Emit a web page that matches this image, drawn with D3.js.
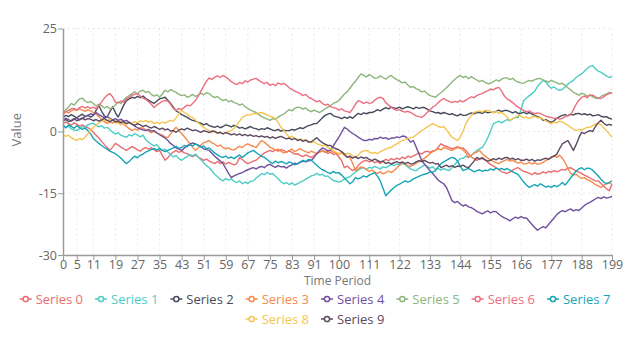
<!DOCTYPE html>
<html><head><meta charset="utf-8">
<script src="https://cdn.jsdelivr.net/npm/d3@7"></script>
<style>
body{margin:0;background:#fff;}
svg{display:block;font-family:"Open Sans","Noto Sans",sans-serif;}
</style></head>
<body><svg id="c" width="630" height="337"></svg>
<script>
const seriesNames = ["Series 0","Series 1","Series 2","Series 3","Series 4","Series 5","Series 6","Series 7","Series 8","Series 9"];
const colors = ["#e96c6e","#4ecdc4","#474c5a","#f58a4c","#71509e","#8cb67b","#eb6f7f","#16a5b6","#f5c550","#5c4a60"];
const xTickLabels = [0,5,11,19,27,35,43,51,59,67,75,83,91,100,111,122,133,144,155,166,177,188,199];
const yTickLabels = [25,0,-15,-30];

const s0 = [1.8,2.3,1.9,1.5,2.1,1.7,1.3,1.6,1.2,0.9,
0.5,-0.2,-0.9,-1.6,-2.4,-3.2,-3.9,-4.6,-3.8,-2.9,
-3.3,-3.8,-4.2,-4.6,-4.1,-3.7,-4.0,-4.5,-4.8,-4.2,
-3.9,-4.3,-4.0,-4.4,-4.9,-4.6,-5.8,-7.0,-6.4,-5.5,
-5.0,-4.6,-5.1,-4.8,-5.2,-5.4,-5.8,-6.1,-5.7,-6.2,
-6.6,-7.0,-6.7,-7.2,-7.5,-7.8,-7.3,-7.8,-7.4,-7.9,
-7.5,-7.8,-8.1,-7.8,-6.3,-6.8,-7.4,-7.8,-7.5,-7.2,
-7.0,-6.4,-5.8,-5.2,-4.9,-4.6,-4.9,-4.5,-4.8,-4.4,
-4.6,-5.0,-4.7,-5.1,-5.5,-5.4,-5.8,-6.1,-5.7,-6.0,
-6.3,-5.9,-5.4,-5.0,-4.6,-4.9,-5.3,-5.0,-5.6,-5.4,
-6.2,-7.1,-8.8,-8.4,-9.0,-9.5,-9.1,-8.3,-7.6,-7.2,
-7.0,-7.4,-7.1,-7.6,-7.3,-7.8,-7.2,-6.8,-7.1,-6.6,
-6.9,-6.5,-6.8,-6.2,-6.6,-6.0,-6.3,-5.9,-5.6,-5.2,
-5.5,-5.0,-4.8,-5.1,-4.7,-4.6,-3.8,-3.0,-3.4,-3.6,
-3.9,-4.2,-4.0,-3.7,-4.1,-4.0,-4.6,-5.4,-6.2,-6.6,
-7.0,-6.6,-6.3,-6.9,-7.5,-8.0,-8.4,-8.8,-9.3,-9.8,
-10.0,-10.2,-9.8,-9.4,-9.0,-8.8,-9.3,-9.7,-9.9,-10.2,
-10.5,-10.0,-10.4,-10.2,-9.8,-10.1,-9.7,-9.9,-9.5,-9.8,
-9.5,-9.2,-9.4,-8.9,-8.8,-9.2,-9.6,-9.9,-10.2,-10.6,
-10.9,-11.3,-11.7,-12.0,-12.0,-12.6,-13.3,-13.9,-14.4,-12.8];

const s1 = [1.5,0.9,1.3,0.6,0.4,0.2,0.7,1.2,1.0,1.6,
1.9,2.0,1.5,1.1,1.4,0.8,1.0,0.4,-0.2,-0.6,
-0.3,-0.9,-1.2,-1.4,-0.8,-1.1,-0.5,-0.9,-1.3,-0.9,
-2.0,-2.6,-3.1,-3.5,-3.2,-4.0,-4.6,-4.3,-5.0,-5.6,
-6.2,-5.8,-6.6,-7.0,-6.5,-6.1,-5.6,-5.9,-5.5,-6.2,
-6.9,-7.6,-8.3,-8.8,-9.6,-10.4,-11.0,-11.6,-12.0,-11.4,
-11.8,-11.5,-12.1,-12.4,-12.0,-12.7,-12.3,-12.6,-12.1,-12.0,
-11.3,-10.8,-10.2,-10.5,-9.9,-10.4,-10.2,-10.9,-11.5,-12.2,
-12.7,-12.4,-12.9,-12.5,-13.0,-12.7,-12.3,-12.0,-11.6,-11.2,
-10.8,-10.6,-10.2,-10.6,-10.4,-10.9,-10.8,-11.4,-11.9,-12.1,
-12.3,-12.0,-11.6,-11.2,-11.0,-10.4,-9.9,-9.4,-9.0,-8.8,
-9.2,-8.7,-8.9,-8.5,-8.8,-9.1,-8.6,-8.8,-8.4,-8.0,
-8.3,-7.9,-8.2,-7.8,-8.0,-8.6,-9.1,-9.4,-9.5,-9.0,
-8.6,-8.2,-8.5,-8.9,-8.6,-9.2,-9.0,-9.4,-9.0,-9.3,
-9.5,-8.8,-8.0,-7.3,-6.6,-6.5,-6.0,-6.3,-5.8,-5.2,
-4.6,-4.2,-3.9,-2.8,-1.5,0.1,1.9,2.2,2.5,2.1,
2.5,2.9,2.6,3.1,3.4,3.4,5.2,7.5,8.1,8.7,
9.2,9.8,10.9,11.7,12.4,12.0,11.1,10.5,10.8,10.3,
10.0,10.2,10.8,11.5,12.0,12.4,13.1,13.6,14.0,14.6,
15.3,15.8,16.0,15.2,14.6,14.4,13.9,13.5,13.1,13.4];

const s2 = [3.4,3.9,3.6,4.1,3.7,3.3,3.8,4.2,3.6,3.9,
3.5,3.9,5.1,6.3,4.9,3.8,3.5,4.8,6.0,4.6,
3.5,4.9,6.4,7.5,7.9,8.3,8.1,8.5,8.2,8.6,
8.0,7.6,7.2,6.8,7.4,7.9,8.1,8.3,7.6,6.8,
5.9,5.0,4.6,4.1,3.8,3.4,3.0,2.7,2.5,2.2,
2.0,1.6,1.9,1.4,1.2,1.0,1.3,0.9,1.2,1.6,
1.4,1.1,1.5,1.2,0.8,1.0,0.6,0.9,1.2,0.8,
0.7,0.4,0.7,0.5,0.9,0.6,0.3,0.2,0.5,0.1,
0.3,0.2,0.2,0.5,0.3,0.6,0.9,0.7,1.1,1.4,
1.6,1.9,1.9,2.6,3.3,3.9,4.2,4.4,3.8,3.6,
3.4,3.1,3.5,3.2,3.6,3.2,3.8,4.4,4.1,4.5,
4.3,4.6,4.6,4.9,5.3,5.0,5.4,5.8,5.5,5.9,
5.7,5.6,5.9,5.5,5.8,6.0,5.8,5.5,5.9,5.6,
5.8,5.8,5.4,5.0,4.8,4.5,4.6,4.3,4.6,4.4,
4.1,4.3,4.0,3.8,4.2,3.9,3.9,4.2,4.5,4.3,
4.6,4.6,4.4,4.8,4.5,4.7,4.6,4.9,5.2,4.8,
5.1,5.1,4.8,4.5,4.8,4.4,4.4,4.7,4.3,4.6,
4.2,3.9,3.6,3.4,2.7,2.9,2.5,2.2,2.6,3.2,
3.6,3.9,4.1,3.8,4.2,4.0,4.3,4.4,4.1,4.3,
4.0,4.2,3.8,3.9,4.1,3.7,3.5,3.6,3.2,3.0];

const s3 = [4.4,4.8,4.5,5.0,5.3,5.1,5.5,5.2,4.9,5.3,
5.0,4.6,4.2,3.6,2.9,2.4,1.9,2.3,2.0,2.6,
2.2,2.5,1.8,1.2,0.7,0.2,0.6,0.3,0.9,0.8,
0.4,0.1,-0.3,0.0,-0.4,-0.6,-0.9,-1.3,-1.5,-0.6,
0.3,1.0,0.2,-0.5,-1.3,-2.1,-3.0,-3.8,-4.6,-4.0,
-3.3,-2.7,-2.5,-2.2,-2.8,-3.1,-3.6,-3.3,-3.9,-4.2,
-4.0,-4.4,-4.5,-4.0,-3.6,-3.9,-3.3,-3.0,-3.4,-3.6,
-3.9,-3.0,-2.2,-2.6,-3.2,-3.8,-4.1,-4.6,-4.3,-4.8,
-5.2,-5.0,-4.6,-4.3,-4.9,-4.5,-4.2,-4.6,-4.9,-5.2,
-4.8,-5.1,-5.4,-5.0,-4.7,-5.1,-4.8,-4.6,-5.0,-5.3,
-5.5,-5.2,-5.8,-6.1,-6.3,-7.8,-9.5,-9.1,-8.6,-8.8,
-9.3,-9.7,-9.4,-9.9,-10.2,-9.8,-10.3,-10.0,-9.6,-10.0,
-9.5,-8.9,-8.2,-7.5,-7.9,-8.3,-8.5,-8.1,-7.7,-7.4,
-7.0,-6.5,-6.0,-5.4,-4.9,-4.6,-4.2,-4.5,-3.9,-4.1,
-4.4,-4.6,-4.2,-4.0,-3.9,-4.5,-5.2,-6.3,-5.8,-5.3,
-5.0,-4.6,-5.4,-6.0,-6.5,-6.9,-7.3,-7.6,-7.8,-7.4,
-7.1,-6.8,-7.2,-7.0,-7.4,-7.7,-7.4,-7.9,-7.8,-7.5,
-7.9,-7.6,-8.0,-7.8,-7.5,-7.1,-6.6,-6.2,-5.9,-6.3,
-5.8,-6.5,-7.6,-8.9,-10.2,-10.6,-10.4,-11.0,-11.4,-11.2,
-11.7,-12.0,-12.4,-12.9,-13.2,-13.6,-13.1,-12.7,-12.4,-12.9];

const s4 = [2.8,3.2,2.9,2.5,2.9,3.3,2.8,3.1,3.6,3.9,
4.3,4.0,4.6,4.1,3.7,3.3,3.6,3.2,2.8,3.1,
2.7,3.0,2.5,2.7,2.2,1.8,1.3,0.9,0.6,0.4,
0.2,0.5,0.1,0.2,-0.3,-0.8,-1.2,-1.6,-2.2,-2.9,
-3.4,-4.0,-4.3,-4.6,-4.0,-3.5,-3.1,-2.8,-3.0,-3.3,
-3.7,-4.2,-4.4,-4.6,-5.3,-6.0,-6.6,-7.2,-7.8,-9.0,
-10.2,-11.2,-10.8,-10.5,-10.2,-10.0,-9.6,-9.3,-9.0,-8.8,
-9.1,-8.7,-8.5,-8.8,-8.2,-8.0,-8.4,-8.7,-8.3,-8.6,
-8.5,-8.9,-8.4,-8.1,-7.7,-7.9,-7.5,-7.2,-7.4,-7.1,
-7.0,-6.3,-5.4,-4.6,-4.0,-4.3,-4.7,-4.5,-3.5,-2.4,
-1.4,-0.2,1.0,0.6,0.0,-0.5,-0.9,-1.4,-1.8,-2.2,
-2.2,-1.9,-2.1,-1.7,-1.8,-1.4,-1.7,-1.5,-1.9,-1.6,
-1.6,-1.3,-1.5,-1.1,-1.2,-1.8,-2.6,-2.2,-3.8,-5.4,
-7.0,-7.9,-8.7,-9.5,-10.2,-11.0,-11.8,-12.3,-12.7,-13.6,
-15.2,-16.8,-17.3,-17.0,-17.6,-18.1,-17.8,-18.3,-18.5,-18.9,
-19.4,-19.7,-20.0,-19.6,-19.3,-19.8,-19.4,-19.5,-20.1,-20.6,
-21.0,-21.3,-21.7,-21.2,-20.8,-21.1,-20.7,-21.0,-21.0,-21.8,
-22.6,-23.3,-24.0,-23.5,-23.1,-23.4,-22.6,-21.8,-21.0,-20.2,
-19.6,-19.2,-19.5,-19.1,-18.8,-19.3,-19.0,-19.2,-18.6,-18.0,
-17.5,-17.2,-16.8,-16.4,-16.0,-16.3,-15.9,-16.2,-16.0,-15.8];

const s5 = [4.6,5.3,5.9,6.8,6.4,7.2,7.9,8.1,7.4,7.0,
7.3,6.8,6.2,6.6,6.3,5.7,6.1,5.5,5.8,6.4,
7.1,6.8,7.6,8.3,8.7,9.2,9.6,9.1,9.8,10.0,
9.5,9.7,9.0,8.6,8.9,8.3,9.1,10.0,9.6,10.2,
9.8,9.5,9.0,8.7,8.9,8.3,8.6,9.0,8.5,8.8,
9.3,8.9,9.4,9.2,8.6,8.2,8.5,7.9,7.5,7.8,
7.2,7.5,7.0,6.8,6.4,6.7,6.0,5.6,5.2,4.9,
4.6,4.1,3.6,3.3,3.0,2.7,3.1,2.9,3.5,3.9,
4.2,4.8,5.3,5.0,5.6,5.9,5.8,5.4,5.7,5.1,
4.8,5.2,4.9,4.6,5.0,5.5,5.9,6.3,6.8,7.1,
7.5,8.3,9.1,9.6,10.5,11.4,12.2,13.1,14.0,13.6,
13.2,13.8,13.4,12.9,13.0,13.5,13.1,12.7,13.3,13.6,
13.0,12.6,12.2,11.8,12.0,11.3,10.7,10.9,10.4,10.1,
9.6,9.8,9.2,8.7,8.5,8.3,8.9,9.4,10.0,10.6,
11.3,12.0,12.6,13.2,13.6,13.1,13.4,12.8,13.3,12.9,
12.5,12.1,12.4,11.9,11.6,11.7,12.1,12.5,12.2,12.7,
13.0,13.0,12.6,12.9,12.3,12.0,11.8,11.7,12.1,12.4,
12.2,12.6,12.8,12.9,12.5,12.3,12.0,12.4,12.1,11.8,
11.5,11.7,11.2,10.6,10.1,9.5,9.2,8.8,9.3,9.0,
8.6,8.9,8.4,8.1,8.0,8.5,8.8,9.1,9.5,9.3];

const s6 = [4.2,4.8,5.1,5.5,5.6,5.2,5.8,6.1,5.7,6.0,
5.6,5.9,5.5,6.3,7.2,8.1,8.8,9.2,8.4,7.1,
7.0,7.4,7.1,7.9,8.3,8.8,9.0,9.2,8.6,8.1,
7.8,7.2,6.6,5.8,6.4,6.9,7.3,7.5,7.4,6.6,
5.6,5.1,5.6,5.3,5.9,6.4,6.2,6.8,7.5,8.6,
9.8,11.0,12.2,13.0,12.6,13.2,13.5,13.1,13.6,13.2,
12.7,12.1,11.7,11.4,11.9,11.6,12.3,12.0,12.5,12.7,
12.9,12.4,12.0,11.6,11.9,11.2,11.5,11.1,11.8,11.4,
11.7,11.2,10.6,10.2,9.8,9.5,9.2,8.7,9.0,8.3,
8.0,7.6,7.2,7.5,6.8,6.4,6.6,6.0,5.8,5.6,
5.2,5.5,5.0,4.8,4.6,5.5,6.6,7.5,7.2,6.8,
7.1,6.8,7.0,7.6,8.1,8.3,8.0,7.0,6.4,5.9,
5.4,5.1,5.3,4.9,4.7,4.9,4.6,4.2,3.8,3.6,
3.4,3.9,4.6,5.3,5.9,6.3,7.0,7.6,8.0,7.6,
7.3,7.0,7.3,7.1,7.5,7.2,7.6,8.0,8.4,8.2,
8.7,9.0,9.2,9.6,9.9,10.3,10.1,10.5,10.7,9.8,
8.6,7.9,7.5,7.0,6.4,5.9,5.5,5.1,4.8,5.0,
4.6,4.3,4.5,4.4,4.0,3.7,3.5,3.4,3.1,3.3,
3.0,3.2,3.6,3.9,4.0,5.3,6.6,7.6,8.3,8.6,
8.2,8.8,8.8,8.4,8.1,8.0,8.4,8.9,9.2,9.4];

const s7 = [1.5,0.9,1.6,1.2,0.8,1.4,0.9,0.5,0.8,0.2,
-0.6,-1.7,-2.3,-2.9,-3.4,-3.9,-4.3,-4.8,-5.1,-5.4,
-5.9,-6.5,-7.2,-7.8,-7.3,-6.6,-6.0,-6.4,-5.8,-5.5,
-5.0,-4.7,-4.4,-4.2,-4.5,-4.2,-4.6,-4.9,-4.6,-4.3,
-4.0,-3.6,-4.1,-3.9,-3.4,-3.7,-3.2,-3.5,-3.0,-3.4,
-3.8,-3.5,-4.2,-4.0,-4.6,-5.2,-5.7,-6.1,-6.3,-6.0,
-6.5,-6.2,-6.6,-6.1,-5.7,-6.3,-5.8,-5.2,-4.9,-4.6,
-5.1,-5.6,-6.0,-6.3,-6.8,-7.4,-7.8,-7.2,-7.6,-7.3,
-7.5,-7.9,-7.4,-7.7,-8.1,-7.8,-7.4,-7.0,-7.3,-6.8,
-7.0,-7.6,-8.2,-8.8,-9.3,-9.6,-10.0,-10.2,-9.7,-10.1,
-10.0,-10.6,-11.3,-12.0,-12.7,-12.2,-11.2,-11.5,-11.2,-10.8,
-11.1,-10.6,-10.3,-10.0,-10.9,-12.0,-13.8,-15.6,-14.9,-14.2,
-13.6,-13.1,-12.8,-12.4,-12.0,-12.3,-12.0,-11.5,-11.2,-10.9,
-10.6,-10.4,-10.2,-9.8,-9.9,-9.5,-8.6,-7.8,-7.4,-7.0,
-6.6,-6.3,-6.5,-7.2,-8.4,-9.5,-9.2,-9.0,-9.4,-9.8,
-9.5,-9.3,-9.7,-9.4,-9.5,-9.1,-9.4,-8.9,-9.2,-9.0,
-9.3,-9.0,-9.4,-9.8,-10.1,-10.5,-11.4,-12.3,-13.0,-13.6,
-13.2,-12.9,-13.3,-12.7,-13.1,-13.5,-13.3,-13.6,-13.1,-13.4,
-13.0,-12.4,-13.0,-12.2,-11.3,-10.4,-9.6,-9.1,-8.8,-9.3,
-8.9,-9.0,-9.4,-10.1,-10.8,-11.6,-12.3,-12.7,-12.4,-12.0];

const s8 = [-0.8,-1.2,-0.9,-1.5,-1.9,-2.2,-1.7,-2.0,-1.4,-0.6,
0.3,1.0,1.5,2.1,2.5,2.8,2.5,3.0,2.6,2.2,
2.0,1.6,2.1,1.8,2.2,2.0,2.4,2.1,2.6,2.3,
2.7,2.2,2.5,1.9,2.2,1.9,2.3,2.0,2.4,2.7,
2.5,3.3,4.2,5.1,4.6,4.2,3.6,3.4,2.8,2.1,
1.5,1.0,0.6,0.2,-0.2,0.1,-0.5,-0.2,-0.6,-0.3,
0.0,0.2,0.8,1.6,2.5,3.4,3.8,4.1,4.0,4.4,
4.2,4.5,4.6,4.3,4.0,3.7,3.5,3.2,2.2,1.0,
0.3,-0.6,-1.4,-1.2,-1.6,-1.9,-2.0,-2.2,-2.0,-2.4,
-2.7,-2.5,-3.0,-3.2,-3.5,-3.3,-3.9,-4.2,-4.6,-5.0,
-5.4,-5.1,-5.6,-5.3,-5.4,-5.9,-6.3,-5.8,-5.0,-4.7,
-4.6,-5.0,-5.3,-5.1,-5.4,-4.9,-4.6,-4.3,-4.0,-3.9,
-3.4,-3.0,-2.6,-2.2,-2.0,-1.7,-1.5,-1.4,-0.8,-0.3,
0.2,0.6,1.1,1.5,1.9,1.6,1.2,1.0,1.2,0.4,
-0.5,-1.4,-1.8,-2.2,-1.3,0.0,1.9,3.0,3.9,4.6,
4.8,5.0,4.7,5.1,5.1,4.8,4.5,4.9,4.4,4.6,
4.1,3.5,2.7,3.1,3.4,3.9,3.7,3.3,3.5,3.2,
3.5,3.7,3.3,3.4,3.0,2.6,2.2,1.9,2.3,2.1,
2.5,2.3,1.9,1.5,1.0,0.6,0.2,0.5,0.3,0.7,
1.0,1.0,1.4,1.8,2.0,1.6,0.9,0.2,-0.6,-1.4];

const s9 = [2.5,2.9,2.4,2.7,3.1,2.6,2.9,3.3,2.8,3.1,
3.0,2.6,2.9,2.5,2.8,3.2,2.7,2.4,2.8,2.3,
2.5,2.1,2.4,1.9,2.2,1.8,1.5,1.9,1.6,1.2,
1.5,1.1,0.8,1.2,0.9,0.5,0.8,0.4,0.6,0.1,
0.2,-0.2,0.3,0.6,0.4,0.8,0.5,0.2,0.4,0.1,
-0.2,0.2,0.0,-0.3,0.1,0.0,-0.4,-0.2,-0.6,-0.3,
-0.5,-0.8,-0.6,-0.9,-0.6,-1.0,-0.7,-1.1,-0.8,-1.2,
-1.0,-1.3,-1.1,-1.4,-1.2,-1.6,-1.3,-1.7,-1.4,-1.2,
-1.5,-1.8,-1.6,-2.0,-1.7,-2.2,-1.9,-2.4,-2.1,-2.6,
-2.5,-2.0,-1.5,-2.2,-2.7,-3.1,-3.4,-3.4,-3.9,-4.2,
-4.5,-4.9,-5.5,-6.3,-6.0,-6.5,-6.1,-6.6,-6.2,-6.5,
-6.3,-6.8,-7.1,-6.7,-7.0,-7.4,-7.2,-7.8,-7.5,-7.9,
-7.6,-7.3,-7.7,-7.4,-7.8,-7.5,-7.9,-7.8,-7.4,-7.1,
-7.3,-7.0,-7.4,-7.7,-7.5,-7.9,-7.8,-8.8,-8.5,-8.2,
-8.6,-8.3,-8.7,-8.4,-8.5,-8.2,-8.6,-8.8,-8.0,-7.2,
-6.3,-6.7,-6.5,-6.9,-7.2,-7.0,-6.6,-6.9,-6.5,-6.8,
-6.4,-6.3,-6.7,-6.5,-6.9,-6.6,-7.0,-7.0,-6.7,-7.1,
-6.8,-7.2,-6.9,-7.0,-6.7,-6.5,-6.8,-6.3,-6.0,-5.5,
-4.2,-3.0,-2.6,-2.2,-3.4,-4.6,-3.2,-1.5,-0.2,-0.5,
-0.1,0.2,0.0,1.2,2.1,2.7,2.0,1.5,1.7,1.5];

const seriesValues = [s0,s1,s2,s3,s4,s5,s6,s7,s8,s9];

const svg = d3.select("#c");
const mLeft = 63, mRight = 612, mTop = 28.5, mBottom = 255;
const x = d3.scaleLinear().domain([0,199]).range([mLeft,mRight]);
const y = d3.scaleLinear().domain([-30,25]).range([mBottom,mTop]);

// grid
const grid = svg.append("g");
grid.selectAll("line.v").data(xTickLabels.slice(1)).join("line")
  .attr("x1",d=>x(d)).attr("x2",d=>x(d)).attr("y1",mTop).attr("y2",mBottom)
  .attr("stroke","#e8e8e8").attr("stroke-dasharray","2,3").attr("stroke-width",1);
grid.selectAll("line.h").data(yTickLabels.filter(d=>d!==-30)).join("line")
  .attr("x1",mLeft).attr("x2",mRight).attr("y1",d=>y(d)).attr("y2",d=>y(d))
  .attr("stroke","#e8e8e8").attr("stroke-dasharray","2,3").attr("stroke-width",1);

// lines
const line = d3.line().x((d,i)=>x(i)).y(d=>y(d));
svg.append("g").selectAll("path").data(seriesValues).join("path")
  .attr("d",line).attr("fill","none")
  .attr("stroke",(d,i)=>colors[i]).attr("stroke-width",1.4)
  .attr("stroke-linejoin","round");

// axes
const xAxis = d3.axisBottom(x).tickValues(xTickLabels).tickSize(5).tickSizeOuter(0).tickFormat(d=>d);
const gx = svg.append("g").attr("transform",`translate(0,${mBottom})`).call(xAxis);
const yAxis = d3.axisLeft(y).tickValues(yTickLabels).tickSize(5).tickSizeOuter(0).tickFormat(d=>d);
const gy = svg.append("g").attr("transform",`translate(${mLeft},0)`).call(yAxis);
[gx,gy].forEach(g=>{
  g.select(".domain").attr("stroke","#9a9a9a").attr("stroke-width",1.5);
  g.selectAll(".tick line").attr("stroke","#9a9a9a");
  g.selectAll(".tick text").attr("fill","#666").style("font-size","12.5px").style("font-family","'Open Sans','Noto Sans',sans-serif");
});
gx.selectAll(".tick text").attr("dy",null).attr("y",13.5);
gy.selectAll(".tick text").attr("x",-6);

svg.append("text").attr("x",(mLeft+mRight)/2).attr("y",285).attr("text-anchor","middle")
  .attr("fill","#777").style("font-size","12px").text("Time Period");
svg.append("text").attr("transform",`translate(21,${(mTop+mBottom)/2 - 12}) rotate(-90)`)
  .attr("text-anchor","middle").attr("fill","#777").style("font-size","13px").text("Value");

// legend
const rows = [[0,1,2,3,4,5,6,7],[8,9]];
const rowY = [299,319];
rows.forEach((r,ri)=>{
  const g = svg.append("g");
  let cx = 0;
  r.forEach(i=>{
    const it = g.append("g").attr("transform",`translate(${cx},0)`);
    it.append("line").attr("x1",0).attr("x2",12).attr("y1",0).attr("y2",0).attr("stroke",colors[i]).attr("stroke-width",1.5);
    it.append("circle").attr("cx",6).attr("cy",0).attr("r",2.6).attr("fill","#fff").attr("stroke",colors[i]).attr("stroke-width",1.5);
    const t = it.append("text").attr("x",16).attr("y",0).attr("dy","0.35em").attr("fill",colors[i]).style("font-size","13px").text(seriesNames[i]);
    cx += 16 + t.node().getComputedTextLength() + 12;
  });
  const w = cx - 12;
  g.attr("transform",`translate(${315 - w/2},${rowY[ri]})`);
});
</script></body></html>
